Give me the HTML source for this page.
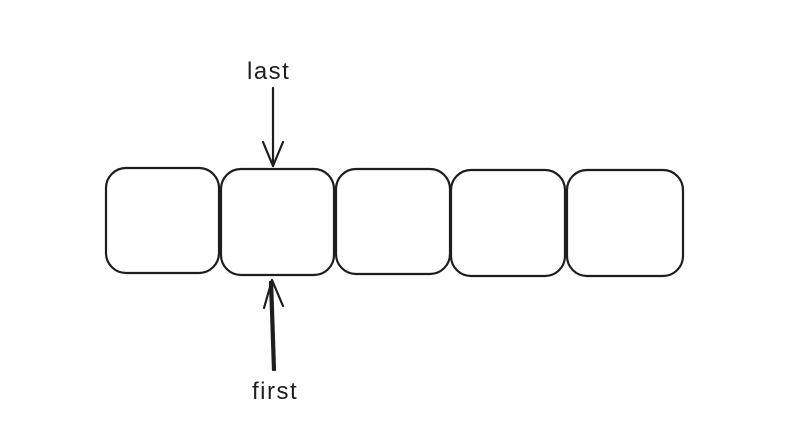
<!DOCTYPE html>
<html><head><meta charset="utf-8"><style>
html,body{margin:0;padding:0;background:#fff;}
svg{display:block;}
text{font-family:"Liberation Sans",sans-serif;font-size:24px;letter-spacing:1.5px;fill:#1e1e1e;}
</style></head><body>
<svg width="785" height="438" viewBox="0 0 785 438">
<g fill="none" stroke="#1e1e1e" stroke-width="2.2" stroke-linecap="round" stroke-linejoin="round">
<rect x="106" y="168" width="113" height="105" rx="20"/>
<rect x="221" y="169" width="113" height="106" rx="20"/>
<rect x="336" y="169" width="114" height="105" rx="20"/>
<rect x="451" y="170" width="114" height="106" rx="20"/>
<rect x="567" y="170" width="116" height="106" rx="20"/>
<g>
<path d="M273 88 L273 166"/>
<path d="M263 142 L273 166 L283 142"/>
</g>
<g>
<path d="M275 370 L272 280 M273 370 L270 282"/>
<path d="M264 308 L272 280 L283 306"/>
</g>
</g>
<text x="247" y="79">last</text>
<text x="252" y="399">first</text>
</svg>
</body></html>
